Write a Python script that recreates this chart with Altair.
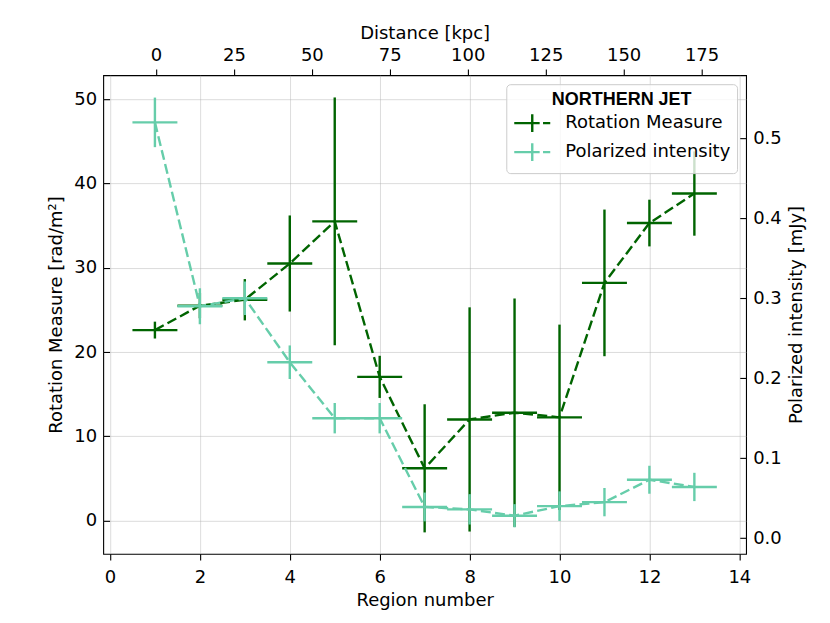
import altair as alt
import pandas as pd

# ---- data ----
REGIONS = [1, 2, 3, 4, 5, 6, 7, 8, 9, 10, 11, 12, 13]
RM = [22.6, 25.5, 26.2, 30.5, 35.5, 17.05, 6.2, 12.0, 12.8, 12.25, 28.2, 35.3, 38.8]
RM_ERR = [1.0, 1.5, 2.45, 5.7, 14.7, 2.5, 7.6, 13.3, 13.55, 11.0, 8.7, 2.77, 5.0]
PI = [0.52, 0.29, 0.30, 0.22, 0.15, 0.15, 0.039, 0.036, 0.028, 0.040, 0.045, 0.073, 0.064]
PI_ERR = [0.031, 0.0225, 0.021, 0.021, 0.019, 0.019, 0.018, 0.019, 0.0145, 0.0185, 0.0177, 0.0175, 0.0177]
X_HALF = 0.5

X_TICKS = [0, 2, 4, 6, 8, 10, 12, 14]
RM_TICKS = [0, 10, 20, 30, 40, 50]
PI_TICKS = [0.0, 0.1, 0.2, 0.3, 0.4, 0.5]
DIST_TICKS = [0, 25, 50, 75, 100, 125, 150, 175]

X_DOMAIN = [-0.15, 14.15]
RM_DOMAIN = [-3.94, 52.84]
PI_DOMAIN = [-0.0196, 0.579]
KPC_PER_REGION = 14.42
DIST_ZERO_REGION = 1.024
DIST_DOMAIN = [(X_DOMAIN[0] - DIST_ZERO_REGION) * KPC_PER_REGION,
               (X_DOMAIN[1] - DIST_ZERO_REGION) * KPC_PER_REGION]

SERIES = ["Rotation Measure", "Polarized intensity"]
DARK = "#006400"
LIGHT = "#66cdaa"

FONT = "DejaVu Sans"
FS = 18
LW = 2.4


def table(vals, errs, name):
    d = pd.DataFrame({"region": REGIONS, "val": vals, "err": errs})
    d["lo"] = d["val"] - d["err"]
    d["hi"] = d["val"] + d["err"]
    d["xlo"] = d["region"] - X_HALF
    d["xhi"] = d["region"] + X_HALF
    d["series"] = name
    return d


df_rm = table(RM, RM_ERR, SERIES[0])
df_pi = table(PI, PI_ERR, SERIES[1])
df_top = pd.DataFrame({"dist": DIST_TICKS})

color_scale = alt.Scale(domain=SERIES, range=[DARK, LIGHT])

LEGEND_PATH = "M-1.385,0H0.57M0.83,0H1.385M0,-0.68V0.68"
legend = alt.Legend(
    title="NORTHERN JET",
    orient="none",
    legendX=403.4,
    legendY=9,
    symbolType=LEGEND_PATH,
    symbolSize=676,
    symbolStrokeWidth=LW,
    symbolOffset=5,
    labelOffset=18.5,
    labelLimit=400,
    labelFont=FONT,
    labelFontSize=FS,
    labelColor="black",
    titleFont="Liberation Sans",
    titleFontSize=FS,
    titleFontWeight="bold",
    titleColor="black",
    titleAnchor="middle",
    titleLimit=400,
    titlePadding=0,
    rowPadding=-2,
    padding=6.5,
    strokeColor="#cccccc",
    fillColor="rgba(255,255,255,0.8)",
    cornerRadius=4,
)

x_scale = alt.Scale(domain=X_DOMAIN, nice=False, zero=False)
rm_scale = alt.Scale(domain=RM_DOMAIN, nice=False, zero=False)
pi_scale = alt.Scale(domain=PI_DOMAIN, nice=False, zero=False)

x_axis = alt.Axis(orient="bottom", values=X_TICKS, title="Region number", grid=True,
                  tickSize=6.3, labelPadding=8, titlePadding=5, format="d")
rm_axis = alt.Axis(orient="left", values=RM_TICKS, title="Rotation Measure [rad/m²]", grid=True,
                   offset=-6.3, tickSize=6.3, labelPadding=6.6, titlePadding=8, format="d")
pi_axis = alt.Axis(orient="right", values=PI_TICKS, title="Polarized intensity [mJy]", grid=False,
                   offset=-6.3, tickSize=6.3, labelPadding=6.6, titlePadding=24.5, format=".1f",
                   titleAngle=270)
top_axis = alt.Axis(orient="top", values=DIST_TICKS, title="Distance [kpc]", grid=False,
                    tickSize=6.3, labelPadding=4.5, titlePadding=4, format="d")

# Rotation measure layer
b_rm = alt.Chart(df_rm)
rm_v = b_rm.mark_rule(color=DARK, strokeWidth=LW).encode(
    x=alt.X("region:Q", scale=x_scale, axis=x_axis),
    y=alt.Y("lo:Q", scale=rm_scale, axis=rm_axis),
    y2="hi:Q",
)
rm_h = b_rm.mark_rule(color=DARK, strokeWidth=LW).encode(
    x="xlo:Q", x2="xhi:Q", y="val:Q"
)
rm_line = b_rm.mark_line(strokeWidth=LW, strokeDash=[10, 4.3]).encode(
    x="region:Q", y="val:Q",
    color=alt.Color("series:N", scale=color_scale, legend=legend),
)
rm_layer = alt.layer(rm_v, rm_h, rm_line)

# Polarized intensity layer
b_pi = alt.Chart(df_pi)
pi_v = b_pi.mark_rule(color=LIGHT, strokeWidth=LW).encode(
    x=alt.X("region:Q", scale=x_scale, axis=None),
    y=alt.Y("lo:Q", scale=pi_scale, axis=pi_axis),
    y2="hi:Q",
)
pi_h = b_pi.mark_rule(color=LIGHT, strokeWidth=LW).encode(
    x="xlo:Q", x2="xhi:Q", y="val:Q"
)
pi_line = b_pi.mark_line(strokeWidth=LW, strokeDash=[10, 4.3]).encode(
    x="region:Q", y="val:Q",
    color=alt.Color("series:N", scale=color_scale, legend=legend),
)
pi_layer = alt.layer(pi_v, pi_h, pi_line)

# Top distance axis
top_layer = alt.Chart(df_top).mark_rule(opacity=0).encode(
    x=alt.X("dist:Q", scale=alt.Scale(domain=DIST_DOMAIN, nice=False, zero=False), axis=top_axis)
)

chart = (
    alt.layer(rm_layer, pi_layer, top_layer)
    .resolve_scale(x="independent", y="independent")
    .properties(
        width=643.4,
        height=479,
        autosize=alt.AutoSizeParams(type="none"),
        padding={"left": 95.3, "top": 67, "right": 76, "bottom": 61},
    )
    .configure_view(stroke="black", strokeWidth=1.1)
    .configure_axis(
        labelFont=FONT, titleFont=FONT, labelFontSize=FS, titleFontSize=FS,
        titleFontWeight="normal", labelColor="black", titleColor="black",
        tickColor="black", tickWidth=1.1, domain=False,
        gridColor="#b0b0b0", gridOpacity=0.45, gridWidth=1,
    )
)

chart.save("out.html", embed_options={"renderer": "svg", "actions": False})
